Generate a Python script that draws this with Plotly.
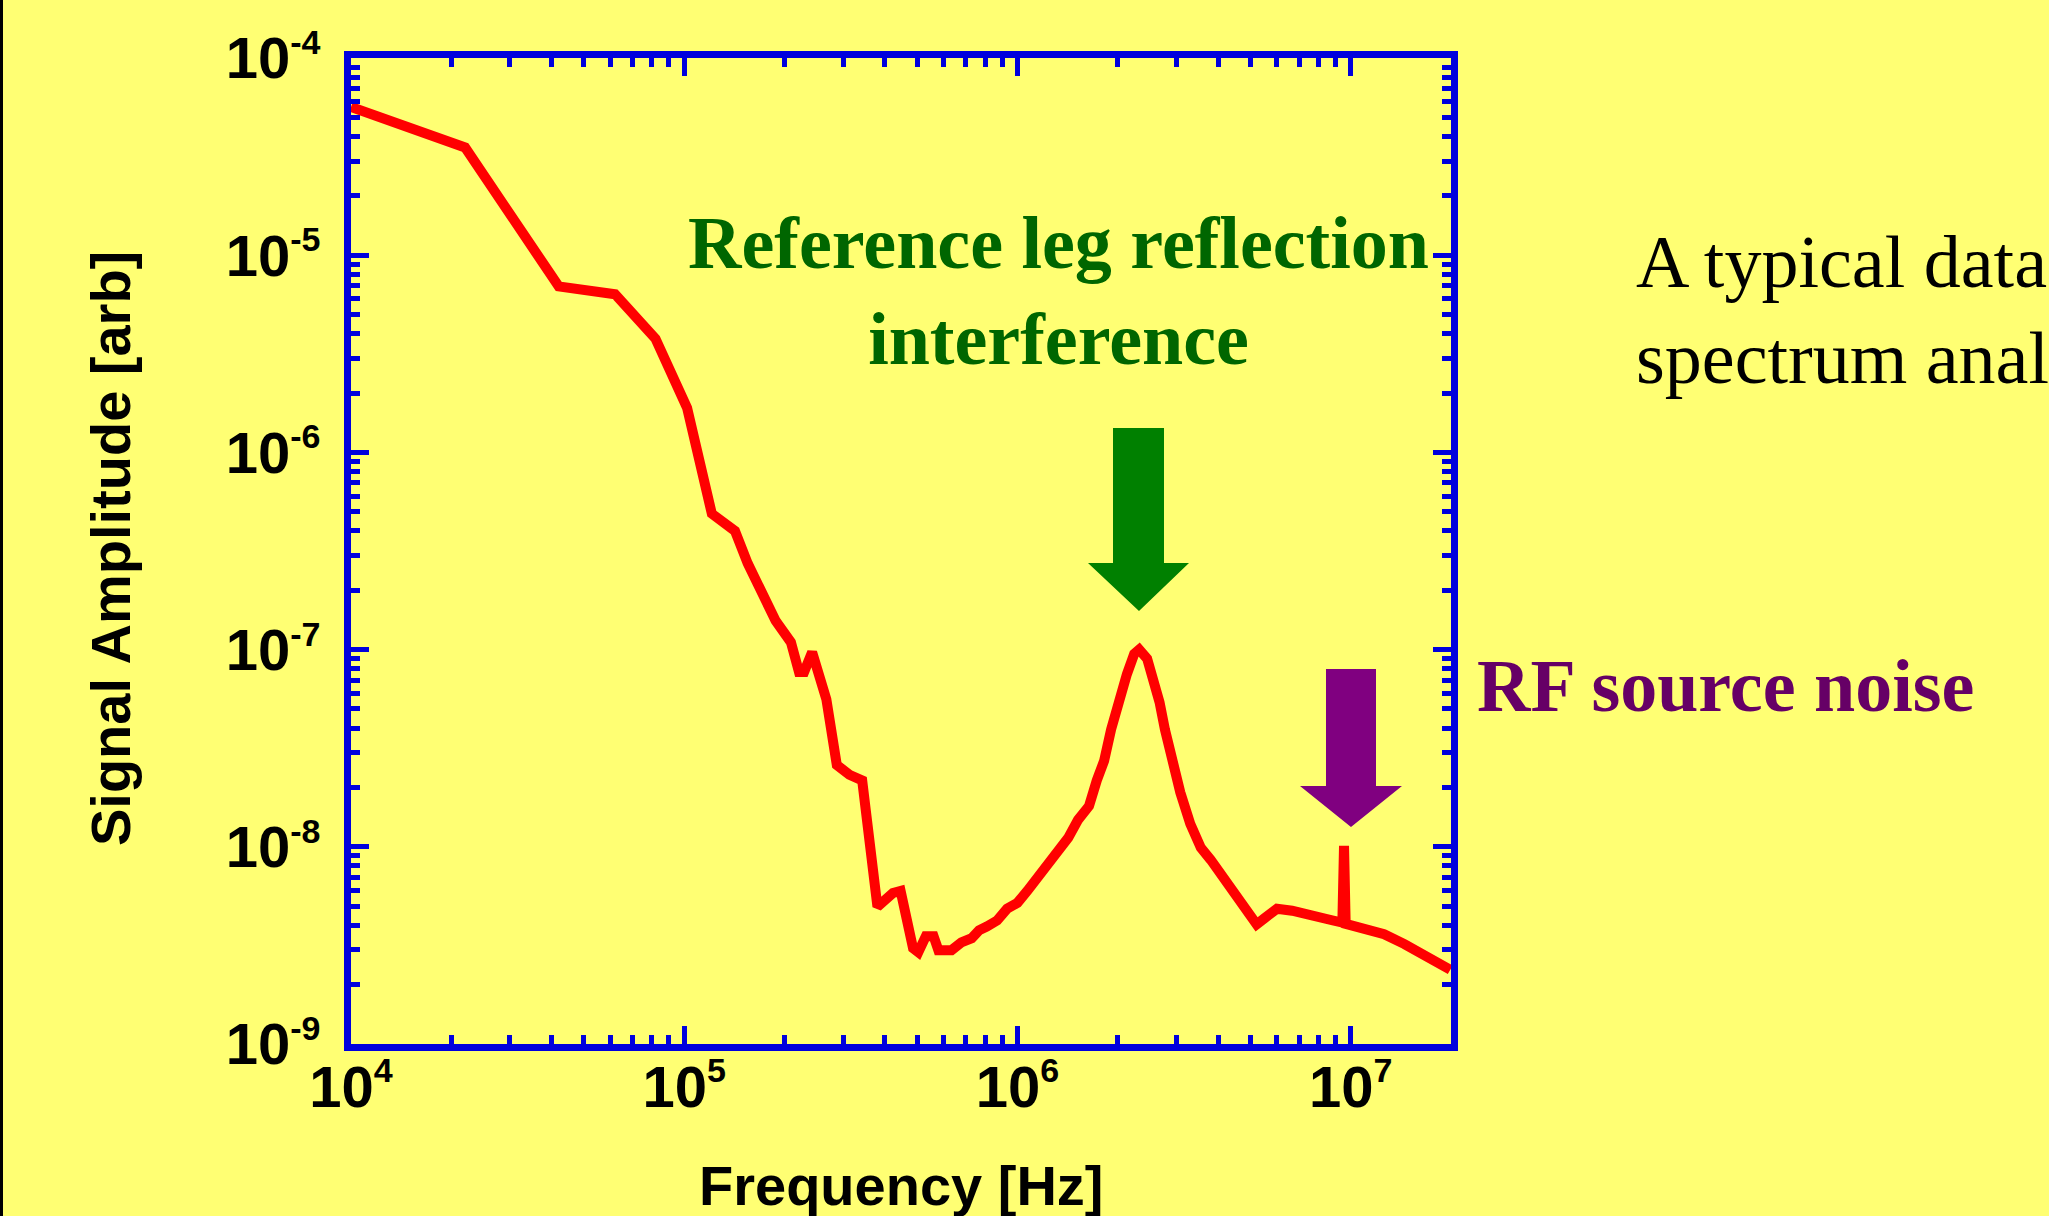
import plotly.graph_objects as go

# ---------------- data ----------------
freq_hz = [
    1.0e4, 2.2e4, 4.2e4, 6.2e4, 8.2e4, 1.02e5, 1.21e5, 1.42e5, 1.55e5, 1.75e5,
    1.88e5, 2.09e5, 2.21e5, 2.29e5, 2.42e5, 2.67e5, 2.87e5, 3.13e5, 3.42e5, 3.80e5,
    4.23e5, 4.46e5, 4.70e5, 4.86e5, 5.04e5, 5.31e5, 5.60e5, 5.79e5, 6.34e5, 6.79e5,
    7.29e5, 7.67e5, 8.09e5, 8.69e5, 9.31e5, 1.00e6, 1.07e6, 1.15e6, 1.24e6, 1.32e6,
    1.42e6, 1.52e6, 1.64e6, 1.73e6, 1.82e6, 1.91e6, 2.02e6, 2.13e6, 2.24e6, 2.32e6,
    2.45e6, 2.54e6, 2.67e6, 2.77e6, 2.92e6, 3.08e6, 3.30e6, 3.55e6, 3.80e6, 4.08e6,
    4.38e6, 4.70e6, 4.95e6, 5.22e6, 5.50e6, 6.01e6, 6.67e6, 7.67e6, 8.85e6, 9.44e6,
    9.55e6, 9.66e6, 9.82e6, 1.09e7, 1.26e7, 1.45e7, 1.66e7, 1.99e7,
]
amplitude = [
    5.64e-5, 3.52e-5, 6.95e-6, 6.34e-6, 3.77e-6, 1.68e-6, 4.89e-7, 4.00e-7, 2.74e-7, 1.77e-7,
    1.40e-7, 1.09e-7, 7.7e-8, 7.7e-8, 9.7e-8, 5.6e-8, 2.6e-8, 2.32e-8, 2.17e-8, 4.97e-9,
    5.83e-9, 5.97e-9, 3.94e-9, 3.06e-9, 2.92e-9, 3.52e-9, 3.52e-9, 2.99e-9, 2.99e-9, 3.28e-9,
    3.44e-9, 3.77e-9, 3.94e-9, 4.23e-9, 4.85e-9, 5.2e-9, 5.97e-9, 7.0e-9, 8.05e-9, 9.25e-9,
    1.11e-8, 1.37e-8, 1.61e-8, 2.17e-8, 2.73e-8, 3.94e-8, 5.7e-8, 7.5e-8, 9.5e-8, 1.0e-7,
    9.0e-8, 7.5e-8, 5.4e-8, 3.94e-8, 2.6e-8, 1.89e-8, 1.31e-8, 9.9e-9, 8.6e-9, 7.2e-9,
    6.1e-9, 5.2e-9, 4.53e-9, 4.04e-9, 4.33e-9, 4.85e-9, 4.74e-9, 4.43e-9, 4.23e-9, 4.13e-9,
    1.01e-8, 4.07e-9, 4.04e-9, 3.94e-9, 3.6e-9, 3.21e-9, 2.79e-9, 2.38e-9,
]

x_tick_vals = [1e4, 1e5, 1e6, 1e7]
x_exponents = ["4", "5", "6", "7"]
y_tick_vals = [1e-9, 1e-8, 1e-7, 1e-6, 1e-5, 1e-4]
y_exponents = ["-9", "-8", "-7", "-6", "-5", "-4"]
x_minor_vals = [k * 10 ** n for n in range(4, 7) for k in range(2, 10)]
y_minor_vals = [k * 10.0 ** n for n in range(-9, -4) for k in range(2, 10)]

x_title = "Frequency [Hz]"
y_title = "Signal Amplitude [arb]"
note_green = "Reference leg reflection<br>interference"
note_purple = "RF source noise"
note_black = "A typical data<br>spectrum analyzer"


def power_label(e):
    return f'10<sup><span style="font-size:34px">{e}</span></sup>'


x_tick_text = [power_label(e) for e in x_exponents]
y_tick_text = [power_label(e) for e in y_exponents]

# ---------------- layout geometry ----------------
W, H = 2049, 1216
L, R, T, B = 351, 1451, 58, 1044
BG = "#FFFF73"
BLUE = "#0000DD"


def px(x):
    return (x - L) / (R - L)


def py(y):
    return (B - y) / (B - T)


def arrow_path(x0, x1, top, hb, hx0, hx1, tipx, tipy):
    pts = [(x0, top), (x1, top), (x1, hb), (hx1, hb), (tipx, tipy),
           (hx0, hb), (x0, hb)]
    return "M " + " L ".join(f"{px(a):.5f},{py(b):.5f}" for a, b in pts) + " Z"


fig = go.Figure()
fig.add_trace(go.Scatter(
    x=freq_hz, y=amplitude, mode="lines",
    line=dict(color="#FF0000", width=10),
    hoverinfo="skip", showlegend=False,
))

tick_font = dict(family="Liberation Sans, Arial, sans-serif", size=58,
                 color="black", weight="bold")

axis_common = dict(
    showline=True, linecolor=BLUE, linewidth=7, mirror="ticks",
    ticks="inside", ticklen=18, tickwidth=5, tickcolor=BLUE,
    showgrid=False, zeroline=False, tickfont=tick_font,
    tickmode="array",
)

fig.update_xaxes(
    type="log", range=[4, 7.30103],
    tickvals=x_tick_vals, ticktext=x_tick_text,
    minor=dict(tickmode="array", tickvals=x_minor_vals, ticks="inside",
               ticklen=9, tickwidth=5, tickcolor=BLUE, showgrid=False),
    ticklabelstandoff=-14,
    **axis_common,
)
fig.update_yaxes(
    type="log", range=[-9, -4],
    tickvals=y_tick_vals, ticktext=y_tick_text,
    minor=dict(tickmode="array", tickvals=y_minor_vals, ticks="inside",
               ticklen=9, tickwidth=5, tickcolor=BLUE, showgrid=False),
    ticklabelstandoff=12,
    **axis_common,
)

shapes = [
    # green arrow
    dict(type="path", xref="paper", yref="paper",
         path=arrow_path(1113, 1164, 428, 563, 1088, 1189, 1139, 611),
         fillcolor="#008000", line=dict(width=0), layer="above"),
    # purple arrow
    dict(type="path", xref="paper", yref="paper",
         path=arrow_path(1326, 1376, 669, 786, 1300, 1402, 1351, 827),
         fillcolor="#800080", line=dict(width=0), layer="above"),
    # black strip at left edge of slide
    dict(type="rect", xref="paper", yref="paper",
         x0=px(0), x1=px(3), y0=py(H), y1=py(0),
         fillcolor="black", line=dict(width=0), layer="above"),
]

serif = "Liberation Serif, Times New Roman, serif"
annotations = [
    dict(text=note_green, x=px(1058), y=py(291), xref="paper", yref="paper",
         xanchor="center", yanchor="middle", showarrow=False, align="center",
         font=dict(family=serif, size=74, color="#006600", weight="bold")),
    dict(text=note_purple, x=px(1475), y=py(686), xref="paper", yref="paper",
         xanchor="left", yanchor="middle", showarrow=False,
         font=dict(family=serif, size=74, color="#660066", weight="bold")),
    dict(text=note_black, x=px(1634), y=py(310), xref="paper", yref="paper",
         xanchor="left", yanchor="middle", showarrow=False, align="left",
         font=dict(family=serif, size=74, color="black")),
    dict(text=x_title, x=0.5, y=py(1185), xref="paper", yref="paper",
         xanchor="center", yanchor="middle", showarrow=False,
         font=dict(family="Liberation Sans, Arial, sans-serif", size=56,
                   color="black", weight="bold")),
    dict(text=y_title, x=px(110), y=py(549), xref="paper", yref="paper",
         xanchor="center", yanchor="middle", showarrow=False, textangle=-90,
         font=dict(family="Liberation Sans, Arial, sans-serif", size=56,
                   color="black", weight="bold")),
]

fig.update_layout(
    width=W, height=H,
    margin=dict(l=L, r=W - R, t=T, b=H - B, pad=0),
    paper_bgcolor=BG, plot_bgcolor=BG,
    shapes=shapes, annotations=annotations,
    showlegend=False,
)

fig.write_html(
    "out.html",
    config={"displayModeBar": False},
    post_script="document.body.style.margin='0';document.body.style.overflow='hidden';",
)
